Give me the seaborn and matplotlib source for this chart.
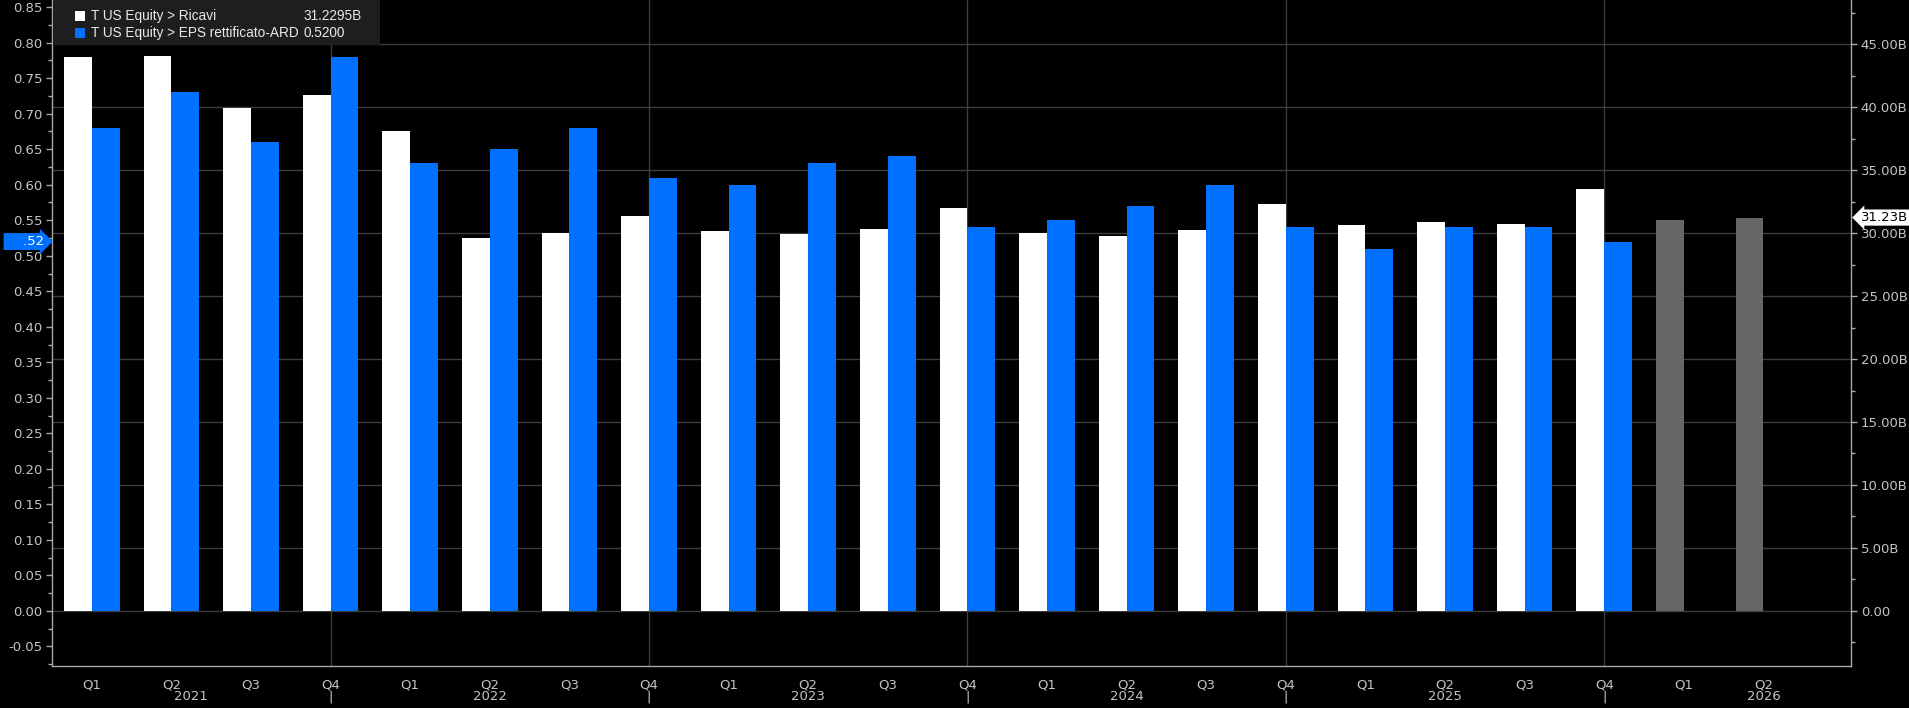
import numpy as np
import pandas as pd
import matplotlib
matplotlib.use("Agg")
import matplotlib.pyplot as plt
import matplotlib.ticker as mticker
from matplotlib.patches import Rectangle
import seaborn as sns

# ---- dati ----
trimestri = ['Q1', 'Q2', 'Q3', 'Q4'] * 5 + ['Q1', 'Q2']
anni = ['2021', '2022', '2023', '2024', '2025', '2026']
anni_pos = [1.25, 5, 9, 13, 17, 21]  # centro etichetta anno (in trimestri)
# Ricavi in miliardi USD (ultimi 2 = stime)
ricavi = [43.94, 44.05, 39.92, 40.96, 38.10, 29.64, 30.04, 31.34,
          30.14, 29.92, 30.35, 32.02, 30.03, 29.80, 30.21, 32.30,
          30.63, 30.85, 30.71, 33.47, 31.03, 31.2295]
n_stime = 2
# EPS rettificato
eps = [0.68, 0.73, 0.66, 0.78, 0.63, 0.65, 0.68, 0.61,
       0.60, 0.63, 0.64, 0.54, 0.55, 0.57, 0.60, 0.54,
       0.51, 0.54, 0.54, 0.52]

BLU = '#0070ff'
GRIGIO = '#666666'
TESTO = '#c4c4c4'
GRID = '#3d3d3d'
SPINE = '#a8a8a8'
W = 0.35
FS = 9.5

sns.set_style('dark')
plt.rcParams['font.family'] = ['DejaVu Sans']

df_rev = pd.DataFrame({
    'pos': np.arange(len(ricavi)) - W / 2,
    'ricavi': ricavi,
    'tipo': ['Effettivo'] * (len(ricavi) - n_stime) + ['Stima'] * n_stime,
})
df_eps = pd.DataFrame({'pos': np.arange(len(eps)) + W / 2, 'eps': eps})

fig = plt.figure(figsize=(19.09, 7.08), dpi=100, facecolor='black')
ax = fig.add_axes([52 / 1909, 42 / 708, 1799 / 1909, 666 / 708])
ax.set_facecolor('black')
ax2 = ax.twinx()
ax2.set_facecolor('none')

# ricavi sull'asse destro (ax), eps su quello sinistro (ax2)
sns.barplot(data=df_rev, x='pos', y='ricavi', hue='tipo',
            palette={'Effettivo': 'white', 'Stima': GRIGIO},
            native_scale=True, width=W, dodge=False, legend=False,
            saturation=1, linewidth=0, errorbar=None, ax=ax)
sns.barplot(data=df_eps, x='pos', y='eps', color=BLU,
            native_scale=True, width=W, saturation=1, linewidth=0,
            errorbar=None, ax=ax2)

ax.set_xlim(-0.5, 22.1)
ax.set_ylim(-4.37, 48.5)
ax2.set_ylim(-0.0775, 0.86)
ax.set_xlabel('')
ax.set_ylabel('')
ax2.set_ylabel('')

# asse ricavi a destra
ax.yaxis.tick_right()
ax.yaxis.set_major_locator(mticker.MultipleLocator(5))
ax.yaxis.set_minor_locator(mticker.MultipleLocator(2.5))
ax.yaxis.set_major_formatter(mticker.FuncFormatter(
    lambda v, p: '0.00' if abs(v) < 1e-9 else f'{v:.2f}B'))
# asse eps a sinistra
ax2.yaxis.tick_left()
ax2.yaxis.set_major_locator(mticker.MultipleLocator(0.05))
ax2.yaxis.set_minor_locator(mticker.MultipleLocator(0.025))
ax2.yaxis.set_major_formatter(mticker.FuncFormatter(lambda v, p: f'{v:.2f}'))

ax.set_xticks(range(len(trimestri)))
ax.set_xticklabels(trimestri)

for a in (ax, ax2):
    a.tick_params(axis='both', which='major', length=4, width=1, color=SPINE,
                  labelcolor=TESTO, labelsize=FS, pad=3)
    a.tick_params(axis='y', which='minor', length=3, width=1, color=SPINE, left=True, right=True)
    for s in a.spines.values():
        s.set_visible(False)
ax.tick_params(axis='x', pad=5)
ax.tick_params(axis='y', which='both', left=False, right=True)
ax2.tick_params(axis='y', which='both', left=True, right=False)
ax2.tick_params(axis='x', bottom=False, labelbottom=False)
ax.spines['right'].set_visible(True)
ax.spines['bottom'].set_visible(True)
ax2.spines['left'].set_visible(True)
for s in (ax.spines['right'], ax.spines['bottom'], ax2.spines['left']):
    s.set_color(SPINE)
    s.set_linewidth(1)

# griglia: orizzontale sui tick dei ricavi, verticale sui Q4
ax.set_axisbelow(True)
ax.grid(axis='y', which='major', color=GRID, linewidth=1)
ax.grid(axis='x', visible=False)
ax2.grid(False)
q4 = [i for i, q in enumerate(trimestri) if q == 'Q4']
for x in q4:
    ax.axvline(x, color=GRID, linewidth=1, zorder=0.5)
    ax.text(x, -0.046, '|', transform=ax.get_xaxis_transform(), ha='center',
            va='center', color=TESTO, fontsize=FS)
for a, x in zip(anni, anni_pos):
    ax.text(x, -0.0465, a, transform=ax.get_xaxis_transform(), ha='center',
            va='center', color=TESTO, fontsize=FS)

# etichette ultimo valore
ax2.annotate(f'    {eps[-1]:.2f}'.replace('0.', '.'), xy=(0, eps[-1]),
             xycoords=('axes fraction', 'data'), xytext=(-6, 0),
             textcoords='offset points', ha='right', va='center',
             color='white', fontsize=FS, annotation_clip=False,
             bbox=dict(boxstyle='rarrow,pad=0.15', fc=BLU, ec='none'))
ax.annotate(f'{ricavi[-1]:.2f}B', xy=(1, ricavi[-1]),
            xycoords=('axes fraction', 'data'), xytext=(7, 0),
            textcoords='offset points', ha='left', va='center',
            color='black', fontsize=FS, annotation_clip=False,
            bbox=dict(boxstyle='larrow,pad=0.12', fc='white', ec='none'))

# legenda stile terminale
lx0, lx1 = 1 / 1799, 328 / 1799
ly0 = 1 - 45 / 666
ax2.add_patch(Rectangle((lx0, ly0), lx1 - lx0, 1 - ly0, transform=ax2.transAxes,
                        fc='#1e1e1e', ec='none', zorder=5, clip_on=False))
voci = [('T US Equity > Ricavi', f'{ricavi[-1]:.4f}B', 'white'),
        ('T US Equity > EPS rettificato-ARD', f'{eps[-1]:.4f}', BLU)]
for i, (lab, val, col) in enumerate(voci):
    yc = 1 - (16 + 17 * i) / 666
    ax2.add_patch(Rectangle((23 / 1799, yc - 5 / 666), 10 / 1799, 10 / 666,
                            transform=ax2.transAxes, fc=col, ec='none', zorder=6))
    ax2.text(39 / 1799, yc, lab, transform=ax2.transAxes, ha='left', va='center',
             color='#e8e8e8', fontsize=9.8, family=['Liberation Sans', 'DejaVu Sans'],
             zorder=6)
    ax2.text(251 / 1799, yc, val, transform=ax2.transAxes, ha='left', va='center',
             color='#e8e8e8', fontsize=9.8, family=['Liberation Sans', 'DejaVu Sans'],
             zorder=6)

fig.savefig('out.png', dpi=100, facecolor='black')
